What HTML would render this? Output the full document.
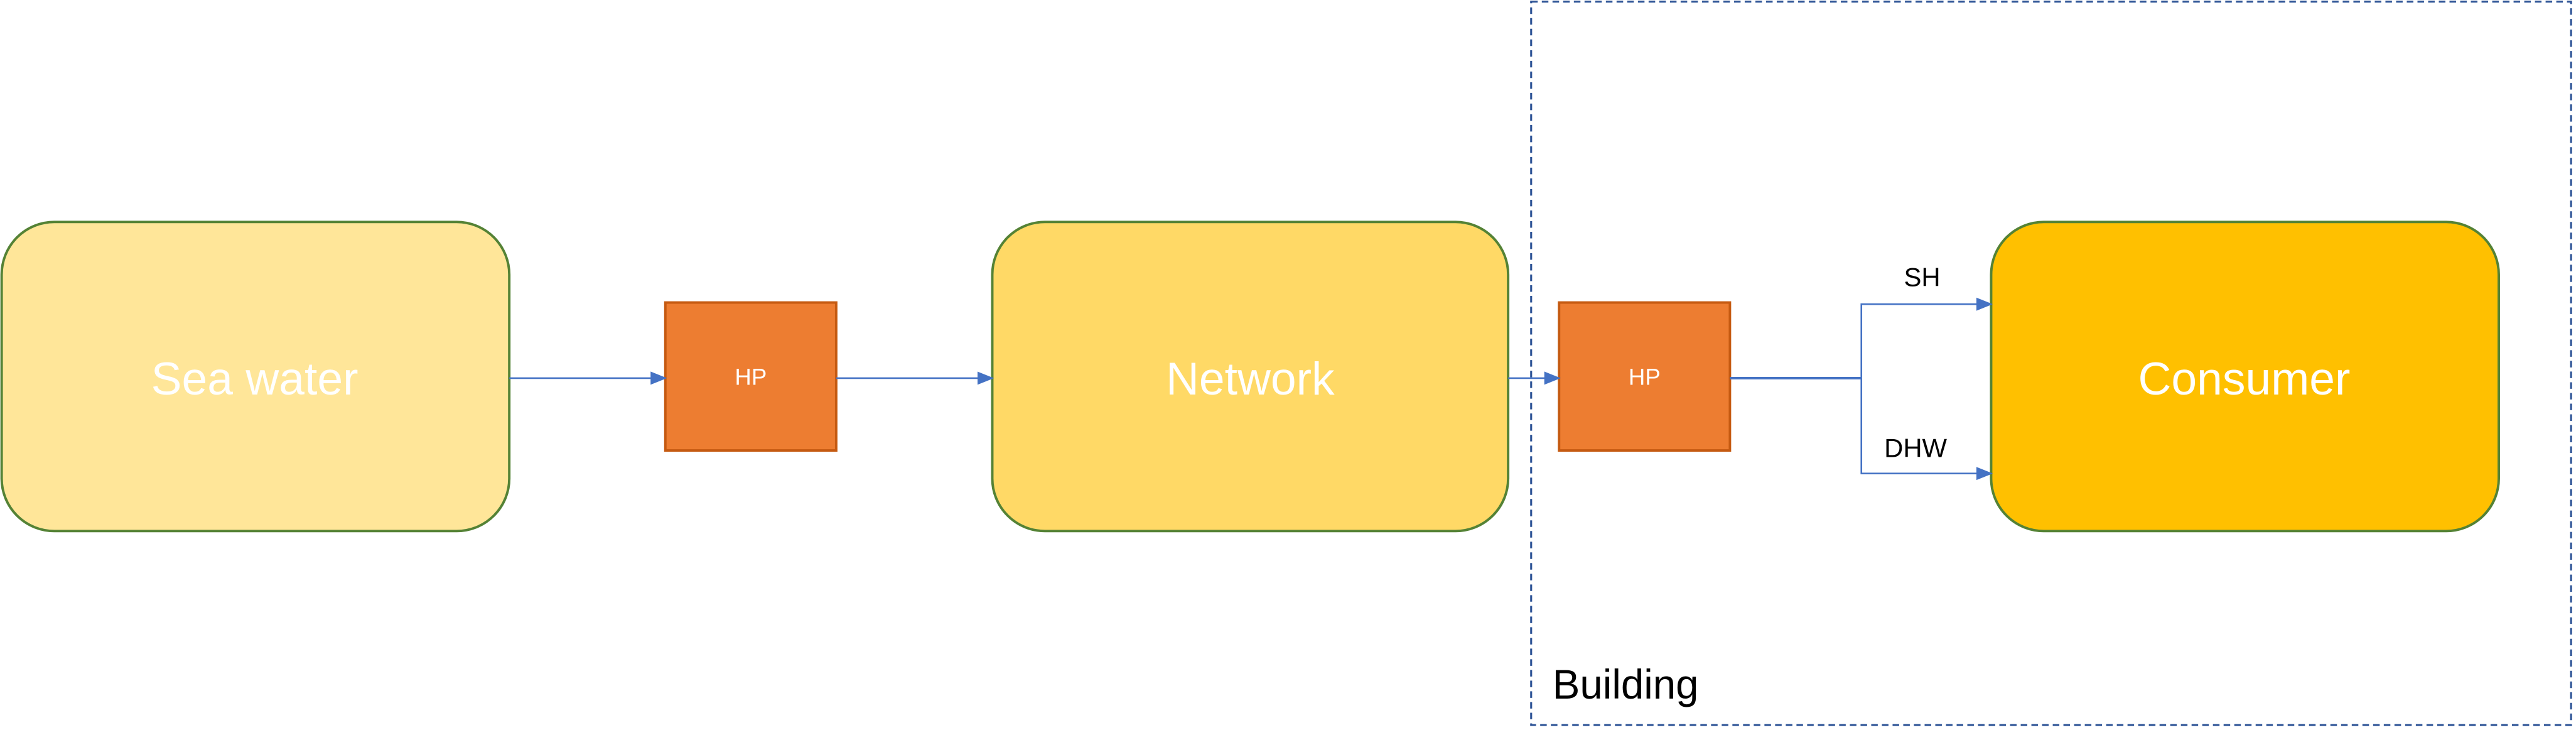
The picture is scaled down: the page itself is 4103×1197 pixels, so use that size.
<!DOCTYPE html>
<html><head><meta charset="utf-8"><style>
html,body{margin:0;padding:0;background:#fff;}
svg{display:block;}
text{font-family:"Liberation Sans",sans-serif;}
</style></head><body>
<svg width="4103" height="1197" viewBox="0 0 1568 457.4" preserveAspectRatio="none" xmlns="http://www.w3.org/2000/svg">
<defs>
<marker id="a" markerWidth="10" markerHeight="10" refX="9" refY="5" orient="auto" markerUnits="userSpaceOnUse">
<path d="M0,1 L10,5 L0,9 Z" fill="#4472C4"/>
</marker>
</defs>
<rect x="932" y="1" width="633" height="440" fill="none" stroke="#2F5597" stroke-width="1.2" stroke-dasharray="4,2.5"/>
<rect x="1" y="135" width="309" height="188" rx="32" fill="#FFE699" stroke="#548235" stroke-width="1.5"/>
<rect x="604" y="135" width="314" height="188" rx="32" fill="#FFD966" stroke="#548235" stroke-width="1.5"/>
<rect x="1212" y="135" width="309" height="188" rx="32" fill="#FFC000" stroke="#548235" stroke-width="1.5"/>
<rect x="405" y="184" width="104" height="90" fill="#ED7D31" stroke="#C55A11" stroke-width="1.5"/>
<rect x="949" y="184" width="104" height="90" fill="#ED7D31" stroke="#C55A11" stroke-width="1.5"/>
<g stroke="#4472C4" stroke-width="1" fill="none">
<line x1="310" y1="230" x2="405" y2="230" marker-end="url(#a)"/>
<line x1="509" y1="230" x2="604" y2="230" marker-end="url(#a)"/>
<line x1="918" y1="230" x2="949" y2="230" marker-end="url(#a)"/>
<line x1="1053" y1="230" x2="1133" y2="230" stroke-width="1.5"/>
<polyline points="1133,230 1133,185 1212,185" marker-end="url(#a)"/>
<polyline points="1133,230 1133,288 1212,288" marker-end="url(#a)"/>
</g>
<text x="155" y="240" font-size="28" fill="#fff" text-anchor="middle">Sea water</text>
<text x="761" y="240" font-size="28" fill="#fff" text-anchor="middle">Network</text>
<text x="1366" y="240" font-size="28" fill="#fff" text-anchor="middle">Consumer</text>
<text x="457" y="234" font-size="14" fill="#fff" text-anchor="middle">HP</text>
<text x="1001" y="234" font-size="14" fill="#fff" text-anchor="middle">HP</text>
<text x="1170" y="174" font-size="16" fill="#000" text-anchor="middle">SH</text>
<text x="1166" y="278" font-size="16" fill="#000" text-anchor="middle">DHW</text>
<text x="945" y="425" font-size="25" fill="#000">Building</text>
</svg>
</body></html>
